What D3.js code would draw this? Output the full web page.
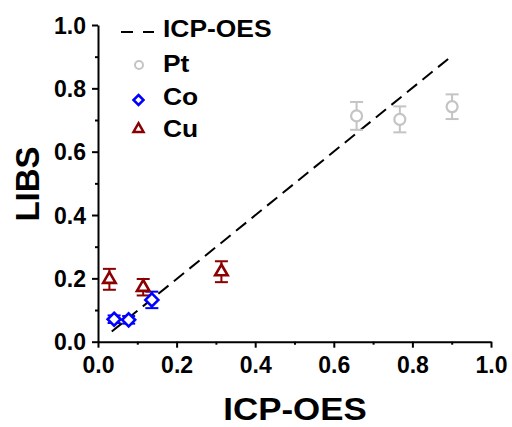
<!DOCTYPE html>
<html>
<head>
<meta charset="utf-8">
<script src="https://cdn.jsdelivr.net/npm/d3@7"></script>
<style>
  html, body { margin: 0; padding: 0; background: #fff; }
  text { font-family: "Liberation Sans", Arial, sans-serif; font-weight: bold; fill: #000; }
</style>
</head>
<body>
<svg id="chart" width="512" height="427"></svg>
<script>
// ---- data ----
const ptX = [0.658, 0.768, 0.901];
const ptY = [0.713, 0.702, 0.742];
const ptErr = [0.044, 0.041, 0.039];

const coX = [0.041, 0.078, 0.137];
const coY = [0.071, 0.069, 0.132];
const coErr = [0.012, 0.012, 0.026];

const cuX = [0.029, 0.115, 0.314];
const cuY = [0.197, 0.172, 0.221];
const cuErr = [0.033, 0.026, 0.033];

const fitX = [0.035, 0.9];
const fitY = [0.032, 0.902];

const majorTicks = [0, 0.2, 0.4, 0.6, 0.8, 1.0];
const minorTicks = [0.1, 0.3, 0.5, 0.7, 0.9];
const legendLabels = ["ICP-OES", "Pt", "Co", "Cu"];
const xTitle = "ICP-OES";
const yTitle = "LIBS";

// ---- layout ----
const svg = d3.select("#chart");
const x = d3.scaleLinear().domain([0, 1]).range([98, 491]);
const y = d3.scaleLinear().domain([0, 1]).range([341.7, 25]);
const x0 = 98, y0 = 341.7;

const colors = { Pt: "#c4c4c4", Co: "#0000ff", Cu: "#8b0000" };

// fit line
svg.append("path")
  .datum(fitX.map((v, i) => [v, fitY[i]]))
  .attr("d", d3.line().x(d => x(d[0])).y(d => y(d[1])))
  .attr("fill", "none").attr("stroke", "#000").attr("stroke-width", 2)
  .attr("stroke-dasharray", "13,7");

// axes
function styleAxis(g) {
  g.select(".domain").attr("stroke", "#000").attr("stroke-width", 2);
  g.selectAll(".tick line").attr("stroke", "#000").attr("stroke-width", 2);
}
const xMinor = svg.append("g").attr("transform", `translate(0,${y0})`)
  .call(d3.axisBottom(x).tickValues(minorTicks).tickSize(3).tickFormat(""));
xMinor.select(".domain").remove();
xMinor.selectAll(".tick line").attr("stroke", "#000").attr("stroke-width", 2);
const yMinor = svg.append("g").attr("transform", `translate(${x0},0)`)
  .call(d3.axisLeft(y).tickValues(minorTicks).tickSize(3).tickFormat(""));
yMinor.select(".domain").remove();
yMinor.selectAll(".tick line").attr("stroke", "#000").attr("stroke-width", 2);

const xAxis = svg.append("g").attr("transform", `translate(0,${y0})`)
  .call(d3.axisBottom(x).tickValues(majorTicks).tickSize(6).tickSizeOuter(0).tickPadding(9).tickFormat(d3.format(".1f")));
styleAxis(xAxis);
xAxis.selectAll(".tick text").attr("font-size", 23).attr("dy", "0.71em")
  .style("font-family", '"Liberation Sans", Arial, sans-serif').style("font-weight", "bold");

const yAxis = svg.append("g").attr("transform", `translate(${x0},0)`)
  .call(d3.axisLeft(y).tickValues(majorTicks).tickSize(6).tickSizeOuter(0).tickPadding(6).tickFormat(d3.format(".1f")));
styleAxis(yAxis);
yAxis.selectAll(".tick text").attr("font-size", 23).attr("dy", "0.36em")
  .style("font-family", '"Liberation Sans", Arial, sans-serif').style("font-weight", "bold");

// axis titles
svg.append("text").attr("transform", "translate(295,420) scale(1.09,1)")
  .attr("text-anchor", "middle").attr("font-size", 32).text(xTitle);
svg.append("text").attr("transform", "translate(39,184) rotate(-90)")
  .attr("text-anchor", "middle").attr("font-size", 33).text(yTitle);

// error bars
function errorBars(xs, ys, es, color) {
  const g = svg.append("g").attr("stroke", color).attr("stroke-width", 2).attr("fill", "none");
  xs.forEach((xv, i) => {
    const cx = x(xv), top = y(ys[i] + es[i]), bot = y(ys[i] - es[i]);
    g.append("line").attr("x1", cx).attr("x2", cx).attr("y1", top).attr("y2", bot);
    g.append("line").attr("x1", cx - 6.5).attr("x2", cx + 6.5).attr("y1", top).attr("y2", top);
    g.append("line").attr("x1", cx - 6.5).attr("x2", cx + 6.5).attr("y1", bot).attr("y2", bot);
  });
}
errorBars(ptX, ptY, ptErr, colors.Pt);
errorBars(coX, coY, coErr, colors.Co);
errorBars(cuX, cuY, cuErr, colors.Cu);

// symbols
function circlePath(r) { return `M${r},0A${r},${r} 0 1,1 ${-r},0A${r},${r} 0 1,1 ${r},0Z`; }
function diamondPath(r) { return `M0,${-r}L${r},0L0,${r}L${-r},0Z`; }
function trianglePath(s) { const h = s * Math.sqrt(3) / 2; return `M0,${-h * 2 / 3}L${s / 2},${h / 3}L${-s / 2},${h / 3}Z`; }

function markers(xs, ys, path, color, sw) {
  svg.append("g").selectAll("path").data(xs.map((v, i) => [v, ys[i]])).join("path")
    .attr("transform", d => `translate(${x(d[0])},${y(d[1])})`)
    .attr("d", path).attr("fill", "#fff").attr("stroke", color).attr("stroke-width", sw);
}
markers(ptX, ptY, circlePath(5.5), colors.Pt, 2.2);
markers(coX, coY, diamondPath(6.5), colors.Co, 2.6);
markers(cuX, cuY, trianglePath(12.5), colors.Cu, 2.6);

// legend
const lg = svg.append("g");
lg.append("line").attr("x1", 121).attr("x2", 154).attr("y1", 32).attr("y2", 32)
  .attr("stroke", "#000").attr("stroke-width", 2).attr("stroke-dasharray", "12,10");
lg.append("path").attr("transform", "translate(139,65)").attr("d", circlePath(4))
  .attr("fill", "#fff").attr("stroke", colors.Pt).attr("stroke-width", 2);
lg.append("path").attr("transform", "translate(138.5,100)").attr("d", diamondPath(5))
  .attr("fill", "#fff").attr("stroke", colors.Co).attr("stroke-width", 2.5);
lg.append("path").attr("transform", "translate(138.5,129)").attr("d", trianglePath(10))
  .attr("fill", "#fff").attr("stroke", colors.Cu).attr("stroke-width", 2.5);
const baselines = [37, 71.5, 105, 137];
legendLabels.forEach((t, i) => {
  lg.append("text").attr("transform", `translate(163,${baselines[i]}) scale(1.1,1)`)
    .attr("font-size", 24).text(t);
});
</script>
</body>
</html>
